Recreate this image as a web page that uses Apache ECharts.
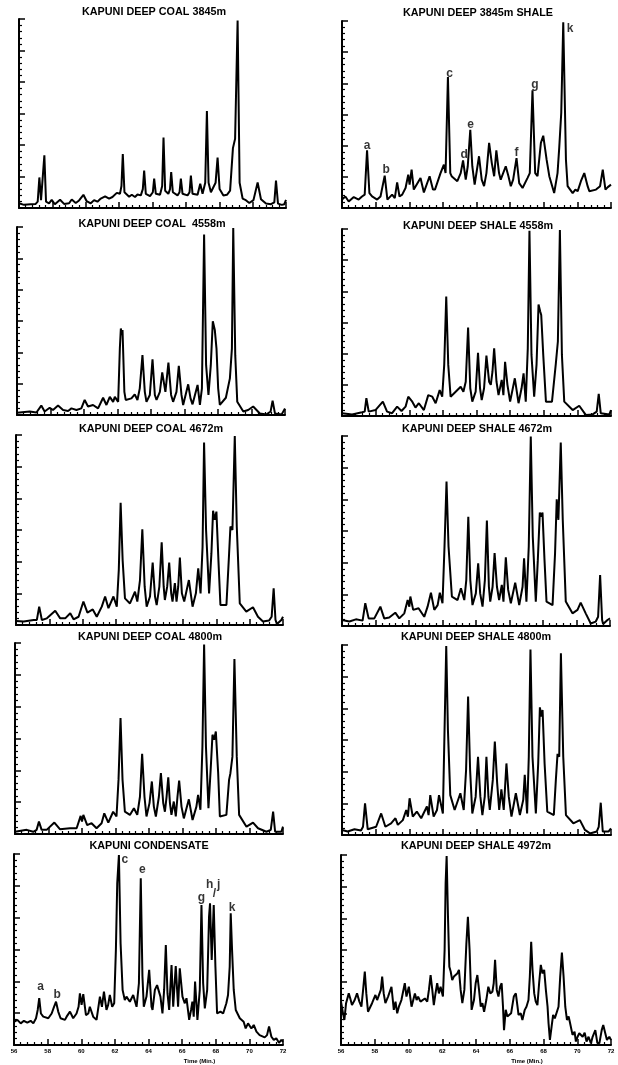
<!DOCTYPE html>
<html>
<head>
<meta charset="utf-8">
<script src="https://cdn.jsdelivr.net/npm/echarts@6/dist/echarts.min.js"></script>
<style>
    html, body { margin: 0; padding: 0; background: #fff; }
    #main { width: 618px; height: 1065px; }
</style>
</head>
<body>
<div id="main"></div>
<script>
// retention time (min) / relative response
var coal3845 = [[56.0,1.5],[56.3,1.0],[56.7,1.2],[57.0,1.3],[57.12,2],[57.22,9.7],[57.32,2.5],[57.42,3],[57.52,16.7],[57.62,2],[57.8,1.5],[57.96,2.6],[58.15,1.2],[58.46,2.6],[58.7,1.3],[59.0,1.5],[59.16,2.7],[59.4,1.6],[59.6,2.4],[59.86,4.2],[60.05,2.2],[60.3,1.5],[60.5,2.5],[60.7,2],[60.9,3],[61.16,3.7],[61.4,3.0],[61.6,3.5],[61.86,4.8],[62.05,4.5],[62.14,7],[62.22,17.1],[62.32,5],[62.6,3.6],[62.76,4.2],[62.95,3.5],[63.1,4.3],[63.3,4],[63.42,6],[63.5,11.9],[63.6,4.5],[63.85,3.8],[64.02,5],[64.1,9.3],[64.2,4.5],[64.45,4.2],[64.58,7],[64.66,22.4],[64.76,5.5],[64.95,4.5],[65.05,6],[65.12,11.4],[65.22,5],[65.5,4],[65.62,5],[65.7,9.3],[65.8,4.5],[66.1,4.0],[66.22,5],[66.3,10.3],[66.4,4.5],[66.7,4.2],[66.86,7.7],[67.0,4.5],[67.16,8],[67.26,30.8],[67.36,8],[67.5,5],[67.78,8],[67.9,16.0],[68.02,6],[68.25,4.0],[68.46,4.2],[68.65,5.5],[68.82,19.0],[68.95,22],[69.1,59.5],[69.22,8],[69.4,3],[69.56,2.6],[69.8,1.6],[70.05,2.5],[70.3,8.1],[70.5,2.8],[70.8,1.4],[71.1,1.2],[71.3,1.8],[71.4,8.7],[71.52,1.4],[71.75,1.0],[71.9,1.2],[72.0,2.6]]

var shale3845 = [[56.0,2.7],[56.2,3.7],[56.4,2.1],[56.7,3.5],[56.99,2.7],[57.19,3.7],[57.35,4.3],[57.49,18.5],[57.63,4.8],[57.79,3.7],[58.09,2.7],[58.29,3.7],[58.54,10.4],[58.7,2.7],[58.98,4.3],[59.14,3.2],[59.28,8.2],[59.42,3.7],[59.58,4.3],[59.78,6.4],[59.94,10.7],[60.02,7.5],[60.14,12.3],[60.27,5.9],[60.37,5.4],[60.67,9.6],[60.87,5.0],[60.97,5.4],[61.21,10.2],[61.41,5.9],[61.53,5.9],[61.86,11.2],[62.06,13.9],[62.16,11.2],[62.3,42.0],[62.44,11.2],[62.52,10.2],[62.86,8.6],[63.06,11.2],[63.2,15.3],[63.36,9.1],[63.48,13.4],[63.63,25.1],[63.75,13.4],[63.89,7.5],[64.15,16.6],[64.31,9.1],[64.45,7.0],[64.59,11.2],[64.75,20.9],[64.91,14.4],[65.05,10.2],[65.18,18.5],[65.34,11.2],[65.44,9.1],[65.74,13.4],[65.9,10.2],[66.04,7.0],[66.18,9.1],[66.38,16.0],[66.54,8.0],[66.74,6.4],[67.03,9.6],[67.17,11.2],[67.33,37.8],[67.49,11.2],[67.63,10.2],[67.83,20.9],[67.97,23.2],[68.17,15.5],[68.33,10.2],[68.62,4.8],[68.82,11.2],[68.92,19.3],[69.04,30.5],[69.16,59.6],[69.32,15.5],[69.42,7.0],[69.72,4.8],[69.88,5.9],[70.02,5.4],[70.21,8.6],[70.41,11.2],[70.61,7.0],[70.71,5.4],[71.11,5.9],[71.35,7.0],[71.51,12.3],[71.67,5.9],[71.81,6.7],[72.0,7.5]]

var coal4558 = [[56.0,0.7],[56.76,1.1],[57.16,0.8],[57.45,3.0],[57.65,1.1],[57.95,2.3],[58.15,1.6],[58.45,3.0],[58.75,1.6],[59.05,1.3],[59.25,2.1],[59.55,1.6],[59.84,2.1],[60.04,4.8],[60.24,2.7],[60.54,3.2],[60.84,2.1],[61.14,5.5],[61.34,3.2],[61.54,5.8],[61.74,4.2],[61.84,5.8],[62.04,4.2],[62.14,21.2],[62.2,27.6],[62.26,25.5],[62.3,27.1],[62.41,7.4],[62.49,4.8],[62.83,5.3],[63.03,6.6],[63.19,4.8],[63.33,8.5],[63.49,19.1],[63.63,7.4],[63.73,4.2],[63.93,6.4],[64.09,17.8],[64.23,6.4],[64.33,4.8],[64.53,7.4],[64.67,13.6],[64.86,7.4],[65.04,16.7],[65.2,6.4],[65.32,4.2],[65.52,7.4],[65.66,15.7],[65.82,6.4],[65.92,3.2],[66.22,9.8],[66.36,5.3],[66.48,3.4],[66.78,9.6],[66.92,3.2],[67.04,8.5],[67.17,57.6],[67.29,15.9],[67.43,6.4],[67.57,15.9],[67.69,29.9],[67.81,27.1],[67.91,21.2],[68.01,8.5],[68.11,3.2],[68.47,5.5],[68.71,11.7],[68.83,21.2],[68.91,59.7],[69.03,19.1],[69.15,4.2],[69.51,1.1],[69.8,1.6],[70.1,2.7],[70.5,0.5],[70.9,0.2],[71.14,1.1],[71.26,4.6],[71.4,0.5],[71.8,0.2],[72.0,2.1]]

var shale4558 = [[56.0,0.9],[56.6,0.5],[57.19,1.2],[57.35,1.4],[57.45,5.7],[57.59,1.4],[57.99,1.9],[58.43,4.6],[58.68,1.4],[58.98,0.9],[59.28,3.0],[59.54,1.6],[59.78,3.0],[59.94,6.2],[60.18,4.6],[60.37,2.7],[60.57,4.1],[60.87,1.9],[61.13,6.7],[61.37,6.2],[61.57,4.1],[61.81,8.3],[61.96,6.2],[62.08,16.4],[62.2,38.3],[62.32,16.4],[62.46,6.2],[62.76,7.8],[63.06,9.4],[63.22,7.8],[63.36,11.0],[63.5,28.4],[63.63,8.9],[63.75,4.6],[63.95,7.8],[64.09,20.3],[64.21,8.9],[64.31,5.1],[64.45,8.9],[64.59,19.4],[64.75,11.0],[64.85,10.0],[64.95,14.2],[65.05,21.7],[65.19,11.0],[65.31,6.7],[65.5,11.6],[65.6,6.7],[65.7,17.4],[65.84,10.0],[66.0,4.6],[66.28,12.1],[66.5,4.1],[66.68,8.9],[66.8,13.7],[66.93,4.6],[67.05,21.7],[67.15,59.4],[67.27,19.6],[67.43,6.2],[67.57,16.4],[67.69,35.8],[67.79,33.5],[67.85,32.4],[67.97,19.6],[68.13,4.6],[68.49,4.6],[68.72,16.9],[68.84,23.9],[68.96,59.7],[69.08,19.6],[69.22,4.6],[69.72,1.9],[70.11,3.3],[70.51,0.3],[70.91,0.5],[71.15,1.4],[71.27,7.1],[71.39,0.9],[71.9,0.5],[72.0,1.9]]

var coal4672 = [[56.0,1.3],[56.46,1.1],[57.06,1.6],[57.25,1.6],[57.39,5.8],[57.55,1.6],[57.85,2.1],[58.35,4.5],[58.65,2.1],[58.95,2.1],[59.25,3.7],[59.45,1.8],[59.75,2.6],[60.04,7.4],[60.28,3.9],[60.6,4.9],[60.84,2.6],[61.14,5.8],[61.34,9.0],[61.54,5.3],[61.84,9.0],[62.04,5.8],[62.16,17.4],[62.27,38.6],[62.39,20.5],[62.53,8.4],[62.83,6.8],[63.13,10.5],[63.27,7.4],[63.43,14.2],[63.57,30.2],[63.71,12.1],[63.83,5.8],[64.03,9.0],[64.19,19.7],[64.33,9.0],[64.43,6.3],[64.59,12.1],[64.73,26.1],[64.85,12.1],[64.92,7.9],[65.06,12.1],[65.18,19.7],[65.3,10.0],[65.38,7.4],[65.52,13.2],[65.62,7.4],[65.72,12.1],[65.82,21.3],[65.94,10.0],[66.08,7.4],[66.36,14.2],[66.58,5.8],[66.78,10.0],[66.92,17.9],[67.06,10.0],[67.18,24.7],[67.27,57.6],[67.39,30.0],[67.57,10.0],[67.71,22.6],[67.81,36.1],[67.91,33.2],[68.01,35.8],[68.13,20.5],[68.25,6.3],[68.61,6.3],[68.77,22.6],[68.85,31.1],[68.97,30.0],[69.11,59.7],[69.23,31.1],[69.41,6.8],[69.8,4.2],[70.2,5.6],[70.5,2.6],[70.8,1.1],[71.16,1.4],[71.32,2.6],[71.44,11.6],[71.55,1.6],[71.64,0.3],[71.9,1.6],[72.0,2.6]]

var shale4672 = [[56.0,1.9],[56.44,1.4],[56.83,2.1],[57.23,1.7],[57.39,7.2],[57.59,2.4],[57.93,2.4],[58.29,6.1],[58.52,2.4],[58.82,2.7],[59.18,4.2],[59.42,2.4],[59.72,4.0],[59.92,8.2],[60.02,6.1],[60.08,9.3],[60.25,5.1],[60.57,5.6],[60.91,2.9],[61.11,6.1],[61.31,10.5],[61.51,5.1],[61.71,6.6],[61.84,10.5],[62.0,7.2],[62.12,25.1],[62.24,45.6],[62.36,25.1],[62.56,9.3],[62.9,8.2],[63.1,11.9],[63.3,8.2],[63.42,14.5],[63.54,34.5],[63.66,14.5],[63.79,6.6],[63.99,10.3],[64.13,19.8],[64.25,10.3],[64.39,6.1],[64.53,14.5],[64.65,33.3],[64.77,12.4],[64.85,7.7],[64.99,12.4],[65.11,23.0],[65.25,12.4],[65.38,8.2],[65.54,13.0],[65.64,7.7],[65.78,21.7],[65.92,11.4],[66.08,7.2],[66.34,13.7],[66.58,6.6],[66.78,12.4],[66.87,21.4],[67.01,7.7],[67.15,25.1],[67.27,59.8],[67.39,28.2],[67.57,7.7],[67.69,20.8],[67.81,35.8],[67.89,34.5],[67.97,35.8],[68.09,20.8],[68.21,7.7],[68.57,6.6],[68.72,23.0],[68.82,40.0],[68.92,33.5],[69.06,57.9],[69.18,33.5],[69.36,7.7],[69.76,4.0],[70.06,5.1],[70.25,7.4],[70.55,4.0],[70.85,0.8],[71.15,1.4],[71.29,2.9],[71.41,16.1],[71.53,1.9],[71.59,0.6],[71.85,1.9],[72.0,2.4]]

var coal4800 = [[56.0,0.7],[56.7,1.3],[57.09,0.7],[57.29,1.3],[57.43,3.9],[57.59,1.3],[57.89,1.3],[58.35,3.6],[58.68,1.5],[59.28,1.8],[59.68,1.8],[59.92,5.7],[60.0,3.9],[60.08,6.0],[60.31,2.8],[60.57,3.4],[60.87,1.8],[61.17,3.4],[61.33,6.5],[61.57,3.6],[61.86,7.0],[62.06,5.5],[62.18,17.0],[62.3,36.4],[62.42,17.0],[62.56,7.0],[62.86,6.0],[63.1,8.1],[63.3,6.0],[63.46,11.7],[63.59,25.2],[63.73,11.7],[63.85,5.5],[64.03,9.7],[64.17,16.5],[64.29,8.6],[64.41,5.5],[64.59,11.7],[64.71,19.1],[64.85,9.7],[64.95,7.0],[65.05,11.7],[65.15,17.8],[65.25,9.7],[65.34,6.0],[65.48,10.2],[65.6,5.5],[65.7,11.7],[65.8,16.8],[65.94,8.6],[66.08,4.9],[66.38,10.9],[66.6,4.4],[66.83,8.6],[66.93,12.3],[67.07,7.6],[67.19,27.5],[67.29,59.5],[67.4,27.5],[67.55,8.1],[67.68,20.1],[67.79,31.2],[67.89,29.6],[67.99,32.2],[68.13,19.1],[68.23,5.5],[68.62,6.0],[68.78,17.0],[68.86,19.1],[68.98,24.3],[69.1,55.0],[69.24,24.3],[69.38,6.0],[69.82,2.3],[70.21,3.6],[70.51,1.8],[71.01,0.7],[71.27,1.3],[71.41,7.0],[71.53,0.7],[71.9,0.7],[72.0,2.3]]

var shale4800 = [[56.0,1.6],[56.34,1.1],[56.74,1.8],[57.13,1.4],[57.25,2.6],[57.37,10.0],[57.53,1.8],[58.03,2.6],[58.33,6.8],[58.58,2.6],[58.92,3.7],[59.18,5.3],[59.32,3.2],[59.62,4.7],[59.82,7.9],[59.92,5.8],[60.02,11.6],[60.21,5.8],[60.45,7.4],[60.71,5.3],[61.05,9.0],[61.15,6.3],[61.25,12.6],[61.45,5.8],[61.65,7.9],[61.77,12.6],[62.0,6.8],[62.1,33.2],[62.2,59.7],[62.3,33.2],[62.44,12.6],[62.7,7.9],[63.04,13.2],[63.24,7.9],[63.38,20.5],[63.5,43.7],[63.62,20.5],[63.75,6.8],[63.95,12.1],[64.09,24.7],[64.23,12.1],[64.35,6.3],[64.49,12.1],[64.59,24.7],[64.71,12.1],[64.79,7.9],[64.97,17.4],[65.09,29.5],[65.23,16.3],[65.35,7.9],[65.48,14.4],[65.62,7.9],[65.78,22.6],[65.92,12.1],[66.08,5.8],[66.34,13.2],[66.58,6.3],[66.78,11.1],[66.87,19.0],[67.01,6.8],[67.11,24.7],[67.21,58.6],[67.33,24.7],[67.53,6.8],[67.67,22.6],[67.77,40.3],[67.85,37.4],[67.93,39.5],[68.05,22.6],[68.21,7.4],[68.6,6.3],[68.72,17.4],[68.82,25.6],[68.92,24.7],[69.02,57.4],[69.16,24.7],[69.32,6.3],[69.76,3.7],[70.15,4.7],[70.45,1.6],[70.75,0.5],[71.15,1.1],[71.27,2.6],[71.39,10.2],[71.51,1.1],[71.85,1.1],[72.0,2.1]]

var condensate = [[56.0,7.3],[56.2,7.9],[56.4,6.8],[56.59,7.6],[56.79,7.0],[56.99,7.6],[57.15,6.8],[57.31,8.4],[57.41,11.0],[57.5,14.7],[57.6,9.9],[57.74,8.9],[58.04,8.4],[58.24,9.9],[58.38,12.0],[58.5,13.6],[58.63,10.5],[58.77,8.4],[59.03,7.9],[59.13,8.9],[59.33,10.5],[59.52,8.4],[59.72,9.9],[59.84,12.0],[59.92,16.2],[60.02,12.6],[60.12,16.0],[60.28,9.4],[60.42,9.9],[60.51,12.0],[60.71,8.9],[60.91,7.9],[61.11,15.2],[61.23,12.0],[61.35,16.8],[61.5,11.0],[61.6,12.6],[61.7,15.7],[61.84,12.0],[61.96,13.1],[62.06,29.8],[62.14,50.8],[62.24,59.7],[62.34,31.9],[62.46,17.3],[62.59,14.1],[62.69,15.2],[62.89,13.6],[63.09,15.7],[63.29,12.0],[63.43,19.4],[63.54,52.4],[63.64,21.5],[63.72,12.0],[63.88,15.2],[64.04,23.6],[64.18,12.0],[64.24,11.0],[64.38,17.3],[64.51,18.8],[64.61,18.3],[64.71,15.2],[64.83,9.9],[64.93,17.3],[65.03,31.4],[65.13,16.2],[65.23,11.0],[65.37,25.1],[65.47,12.0],[65.62,24.8],[65.76,12.0],[65.86,24.1],[66.02,15.2],[66.16,13.1],[66.26,14.7],[66.42,7.9],[66.53,11.0],[66.61,13.6],[66.69,8.9],[66.77,19.9],[66.91,7.9],[67.05,17.3],[67.15,44.0],[67.25,19.4],[67.35,11.5],[67.49,17.3],[67.6,40.3],[67.66,44.5],[67.76,26.7],[67.88,44.0],[67.98,24.6],[68.08,9.9],[68.28,10.5],[68.44,9.9],[68.63,13.1],[68.73,15.7],[68.83,24.6],[68.89,41.4],[68.97,29.8],[69.07,17.3],[69.19,11.0],[69.43,8.4],[69.66,7.3],[69.78,5.2],[69.92,6.8],[70.12,5.2],[70.26,6.3],[70.42,4.2],[70.61,3.1],[70.91,2.4],[71.05,3.1],[71.17,5.8],[71.31,2.6],[71.45,1.6],[71.6,2.1],[71.76,0.7],[71.9,1.6],[72.0,1.0]]

var shale4972 = [[56.0,13.7],[56.12,10.0],[56.2,7.9],[56.3,13.2],[56.46,16.3],[56.55,14.7],[56.65,12.6],[56.81,14.2],[56.95,16.3],[57.09,13.7],[57.21,12.1],[57.31,17.4],[57.41,23.2],[57.5,16.3],[57.6,10.5],[57.84,13.2],[58.04,15.8],[58.14,14.2],[58.24,13.7],[58.36,17.4],[58.44,21.6],[58.53,16.3],[58.63,13.2],[58.79,15.3],[58.99,18.4],[59.13,11.1],[59.23,13.7],[59.33,10.0],[59.43,12.1],[59.58,14.2],[59.78,19.5],[59.88,15.3],[60.02,18.4],[60.18,12.1],[60.38,16.3],[60.48,14.2],[60.57,15.3],[60.71,13.7],[60.81,14.2],[60.97,14.7],[61.11,13.7],[61.21,17.4],[61.31,22.1],[61.41,17.4],[61.5,12.6],[61.6,16.3],[61.7,19.5],[61.8,16.3],[61.9,18.4],[62.04,15.3],[62.14,30.0],[62.2,51.1],[62.26,59.7],[62.34,40.5],[62.42,24.7],[62.5,23.2],[62.59,20.5],[62.69,21.6],[62.79,21.1],[62.89,22.6],[62.99,23.7],[63.09,17.4],[63.19,13.2],[63.31,17.4],[63.43,32.1],[63.52,40.5],[63.62,30.0],[63.74,11.1],[63.88,14.2],[63.98,19.5],[64.08,22.1],[64.18,17.4],[64.28,12.1],[64.38,13.2],[64.48,10.5],[64.61,14.2],[64.73,18.4],[64.85,16.3],[64.97,16.8],[65.05,19.5],[65.13,26.9],[65.23,17.4],[65.33,15.3],[65.43,18.4],[65.52,19.5],[65.6,12.1],[65.66,4.7],[65.76,11.1],[65.86,9.0],[65.96,8.4],[66.08,10.0],[66.24,15.3],[66.36,16.3],[66.46,12.1],[66.52,9.5],[66.65,10.0],[66.75,7.9],[66.89,11.1],[66.99,12.1],[67.11,14.2],[67.19,21.6],[67.27,32.6],[67.35,23.7],[67.45,16.3],[67.54,13.7],[67.64,12.6],[67.74,19.5],[67.84,25.3],[67.94,22.6],[68.04,23.7],[68.14,17.4],[68.24,12.1],[68.3,6.8],[68.38,1.6],[68.48,5.8],[68.57,9.5],[68.67,8.4],[68.77,9.0],[68.89,12.1],[68.99,21.6],[69.09,29.2],[69.19,21.6],[69.29,12.1],[69.39,7.9],[69.49,9.0],[69.58,6.8],[69.72,3.2],[69.84,4.2],[69.92,1.1],[70.02,2.6],[70.12,3.7],[70.22,4.2],[70.32,2.6],[70.44,3.9],[70.55,1.1],[70.67,2.6],[70.81,0.5],[70.91,2.6],[71.07,4.7],[71.19,0.7],[71.31,0.5],[71.45,4.7],[71.54,6.3],[71.66,3.7],[71.76,1.6],[71.9,2.6],[72.0,1.6]]

// peak letters [letter, time, height]
var shale3845Peaks = [['a',57.49,20.1],['b',58.62,12.3],['c',62.4,43.1],['d',63.26,17.1],['e',63.65,26.8],['f',66.38,17.9],['g',67.47,39.6],['k',69.56,57.5]]
var condensatePeaks = [['a',57.58,18.3],['b',58.57,15.7],['c',62.59,58.3],['e',63.64,55.2],['g',67.15,46.4],['h',67.64,50.3],['/',67.92,47.5],['j',68.18,50.3],['k',68.97,43.2]]

var titles = ['KAPUNI DEEP COAL 3845m', 'KAPUNI DEEP 3845m SHALE', 'KAPUNI DEEP COAL  4558m', 'KAPUNI DEEP SHALE 4558m',
    'KAPUNI DEEP COAL 4672m', 'KAPUNI DEEP SHALE 4672m', 'KAPUNI DEEP COAL 4800m', 'KAPUNI DEEP SHALE 4800m',
    'KAPUNI CONDENSATE', 'KAPUNI DEEP SHALE 4972m']
var traces = [coal3845, shale3845, coal4558, shale4558, coal4672, shale4672, coal4800, shale4800, condensate, shale4972]
var peaks = { 1: shale3845Peaks, 8: condensatePeaks }

// left, top, width, height, title centre x, title top
var layout = [
    [19, 19, 267, 189, 154, 7],
    [342, 21, 269, 187, 478, 8],
    [17, 227, 268, 188, 152, 219],
    [342, 229, 269, 187, 478, 221],
    [16, 435, 267, 190, 151, 424],
    [342, 436, 268, 190, 477, 424],
    [15, 643, 268, 191, 150, 632],
    [342, 645, 269, 190, 476, 632],
    [14, 854, 269, 191, 149, 841],
    [341, 855, 270, 190, 476, 841]
]

var font = 'Liberation Sans'
var grid = [], xAxis = [], yAxis = [], series = [], title = []

for (var i = 0; i < traces.length; i++) {
    var L = layout[i]
    var bottomRow = i >= 8
    grid.push({ left: L[0], top: L[1], width: L[2], height: L[3] })
    title.push({
        text: titles[i],
        left: L[4],
        top: L[5],
        textAlign: 'center',
        padding: 0,
        textStyle: { fontFamily: font, fontSize: 10.8, fontWeight: 'bold', color: '#000' }
    })
    xAxis.push({
        type: 'value',
        gridIndex: i,
        min: 56,
        max: 72,
        interval: 2,
        axisLine: { lineStyle: { color: '#000', width: 2 } },
        axisTick: { inside: true, length: 6, lineStyle: { color: '#000', width: 1.5 } },
        minorTick: { show: true, splitNumber: 5, length: 3, lineStyle: { color: '#000', width: 1.2 } },
        splitLine: { show: false },
        axisLabel: { show: bottomRow, margin: 3, fontFamily: font, fontSize: 6, fontWeight: 'bold', color: '#000' },
        name: bottomRow ? 'Time (Min.)' : '',
        nameLocation: 'middle',
        nameGap: 13,
        nameTextStyle: { fontFamily: font, fontSize: 6, fontWeight: 'bold', color: '#000', padding: [0, 0, 0, 102] }
    })
    yAxis.push({
        type: 'value',
        gridIndex: i,
        min: 0,
        max: 60,
        interval: 10,
        axisLine: { lineStyle: { color: '#000', width: 2 } },
        axisTick: { inside: true, length: 6, lineStyle: { color: '#000', width: 1.5 } },
        minorTick: { show: true, splitNumber: 5, length: 3, lineStyle: { color: '#000', width: 1.2 } },
        splitLine: { show: false },
        axisLabel: { show: false }
    })
    series.push({
        type: 'line',
        xAxisIndex: i,
        yAxisIndex: i,
        data: traces[i],
        symbol: 'none',
        lineStyle: { color: '#000', width: 2 },
        z: 3
    })
    if (peaks[i]) {
        series.push({
            type: 'scatter',
            xAxisIndex: i,
            yAxisIndex: i,
            symbolSize: 0,
            data: peaks[i].map(obj => {
                return { name: obj[0], value: [obj[1], obj[2]] };
            }),
            label: {
                show: true,
                position: 'inside',
                formatter: '{b}',
                fontFamily: font,
                fontSize: 12,
                fontWeight: 'bold',
                color: '#000'
            },
            z: 4
        })
    }
}

var chart = echarts.init(document.getElementById('main'))
chart.setOption({
    animation: false,
    backgroundColor: '#fff',
    title: title,
    grid: grid,
    xAxis: xAxis,
    yAxis: yAxis,
    series: series
})
</script>
</body>
</html>
